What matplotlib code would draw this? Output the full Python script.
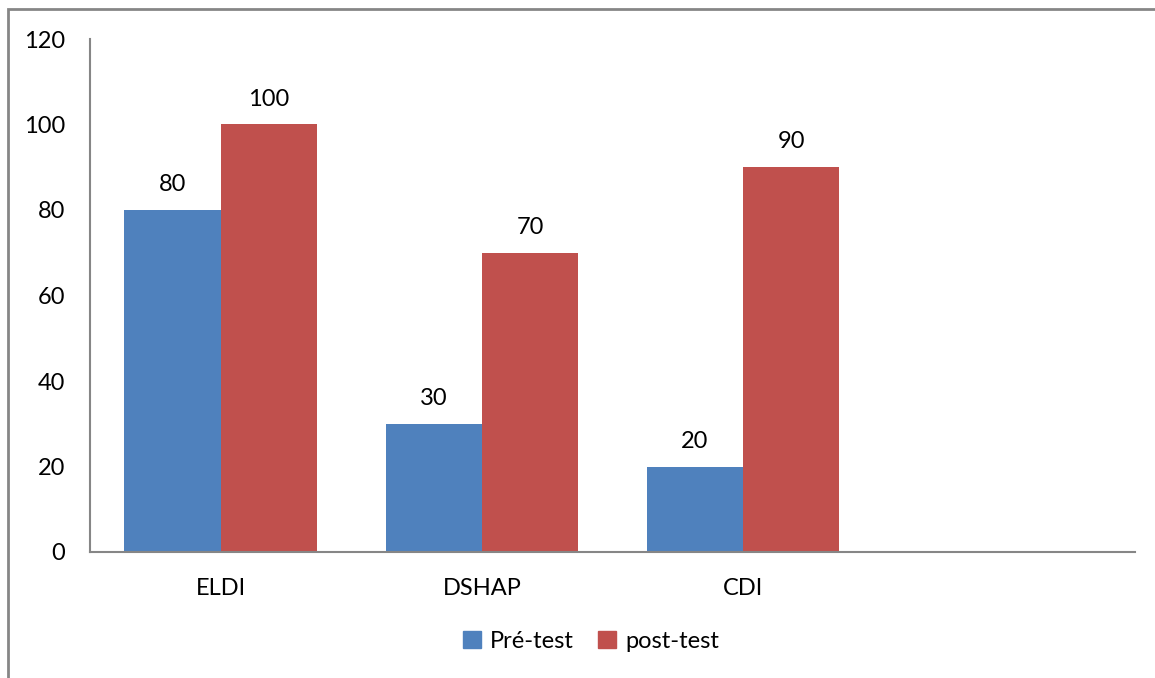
import matplotlib
matplotlib.use("Agg")
import matplotlib.pyplot as plt
from matplotlib.patches import Rectangle, Patch
import numpy as np

categories = ["ELDI", "DSHAP", "CDI", ""]
pre_test = [80, 30, 20, None]
post_test = [100, 70, 90, None]
series_names = ["Pré-test", "post-test"]
yticks = [0, 20, 40, 60, 80, 100, 120]

BLUE = "#4F81BD"
RED = "#C0504D"
GRAY = "#868686"

plt.rcParams['font.family'] = ['Lato', 'DejaVu Sans']
FS = 17

W, H = 1155, 678
fig = plt.figure(figsize=(W/100, H/100), dpi=100)
# outer chart frame (extends past right/bottom)
fig.patches.append(Rectangle((8/W, -0.05), 1.2, (H-9)/H + 0.05, transform=fig.transFigure,
                             fill=False, edgecolor=GRAY, linewidth=2))

ax = fig.add_axes([90/W, (H-552)/H, (1135-90)/W, (552-39)/H])
x = np.arange(len(categories))
bw = 0.368
for i, (a, b) in enumerate(zip(pre_test, post_test)):
    if a is not None:
        ax.bar(x[i] - bw/2, a, bw, color=BLUE)
        ax.text(x[i] - bw/2, a + 3.5, f"{a}", ha="center", va="bottom", fontsize=FS)
    if b is not None:
        ax.bar(x[i] + bw/2, b, bw, color=RED)
        ax.text(x[i] + bw/2, b + 3.5, f"{b}", ha="center", va="bottom", fontsize=FS)

ax.set_xlim(-0.5, len(categories) - 0.5)
ax.set_ylim(0, 120)
ax.set_yticks(yticks)
ax.set_yticklabels([str(t) for t in yticks], fontsize=FS)
ax.set_xticks(x)
ax.set_xticklabels(categories, fontsize=FS)
ax.tick_params(axis="both", length=0)
ax.tick_params(axis="y", pad=18)
ax.tick_params(axis="x", pad=19)
for s in ["top", "right"]:
    ax.spines[s].set_visible(False)
for s in ["left", "bottom"]:
    ax.spines[s].set_color(GRAY)
    ax.spines[s].set_linewidth(1.5)

handles = [Patch(color=BLUE, label=series_names[0]), Patch(color=RED, label=series_names[1])]
fig.legend(handles=handles, loc="center", bbox_to_anchor=(591/W, (H-641)/H), ncol=2,
           frameon=False, fontsize=FS, handlelength=0.75, handleheight=0.75,
           handletextpad=0.4, columnspacing=1.0)

fig.savefig("out.png", dpi=100)
